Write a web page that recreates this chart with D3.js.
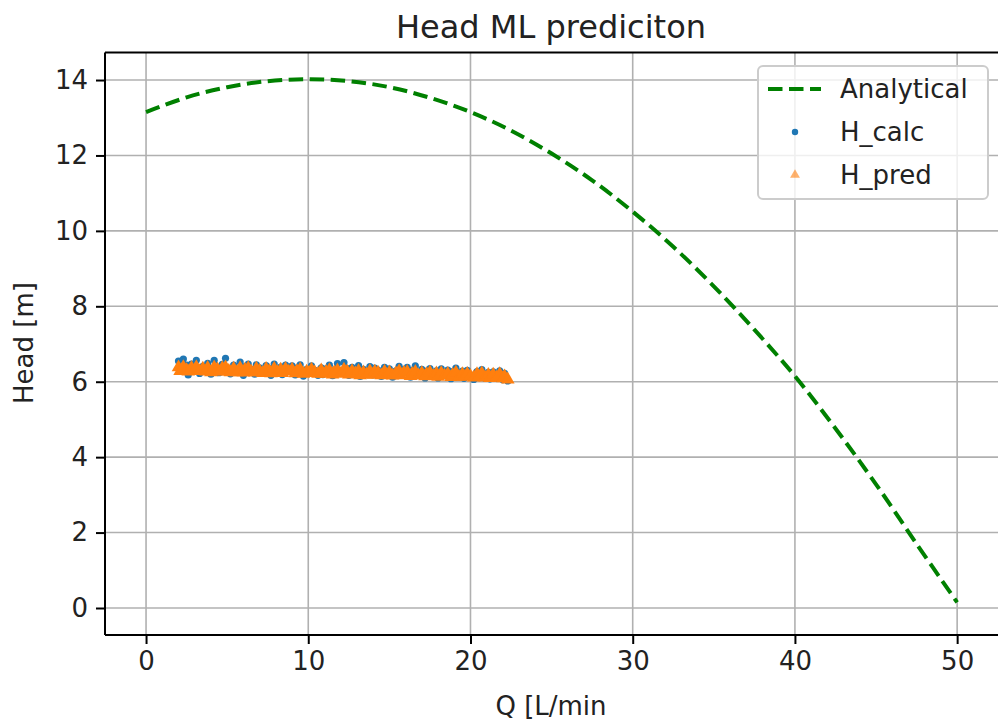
<!DOCTYPE html>
<html>
<head>
<meta charset="utf-8">
<script src="https://cdn.jsdelivr.net/npm/d3@7"></script>
<style>
  html, body { margin: 0; padding: 0; background: #ffffff; }
  svg { display: block; font-family: "DejaVu Sans", sans-serif; }
</style>
</head>
<body>
<svg id="chart" width="998" height="726"></svg>
<script>
// ---- data ----
const analyticalQ = [0, 2.5, 5, 7.5, 10, 12.5, 15, 17.5, 20, 22.5, 25, 27.5, 30, 32.5, 35, 37.5, 40, 42.5, 45, 47.5, 50];
const analyticalH = [13.15, 13.54, 13.81, 13.97, 14.02, 13.97, 13.81, 13.53, 13.15, 12.66, 12.05, 11.34, 10.51, 9.58, 8.53, 7.38, 6.15, 4.76, 3.28, 1.70, 0.15];

const sampleQ = [
  2.0, 2.1, 2.3, 2.5, 2.6, 2.8, 3.0, 3.1, 3.3, 3.5,
  3.7, 3.8, 4.0, 4.2, 4.4, 4.5, 4.7, 4.9, 5.1, 5.2,
  5.4, 5.6, 5.8, 6.0, 6.1, 6.3, 6.5, 6.7, 6.8, 7.0,
  7.2, 7.4, 7.6, 7.7, 7.9, 8.1, 8.3, 8.4, 8.6, 8.8,
  9.0, 9.2, 9.3, 9.5, 9.7, 9.9, 10.0, 10.2, 10.4, 10.6,
  10.8, 10.9, 11.1, 11.3, 11.5, 11.6, 11.8, 12.0, 12.2, 12.4,
  12.5, 12.7, 12.9, 13.1, 13.2, 13.4, 13.6, 13.8, 14.0, 14.1,
  14.3, 14.5, 14.7, 14.8, 15.0, 15.2, 15.4, 15.6, 15.7, 15.9,
  16.1, 16.3, 16.4, 16.6, 16.8, 17.0, 17.2, 17.3, 17.5, 17.7,
  17.9, 18.0, 18.2, 18.4, 18.6, 18.8, 18.9, 19.1, 19.3, 19.5,
  19.6, 19.8, 20.0, 20.2, 20.4, 20.5, 20.7, 20.9, 21.1, 21.2,
  21.4, 21.6, 21.8, 22.0, 22.1, 22.3
];
const calcH = [
  6.55, 6.31, 6.60, 6.44, 6.18, 6.47, 6.36, 6.57, 6.22, 6.41,
  6.33, 6.49, 6.20, 6.57, 6.39, 6.24, 6.46, 6.62, 6.35, 6.21,
  6.44, 6.30, 6.52, 6.17, 6.40, 6.47, 6.33, 6.20, 6.45, 6.37,
  6.22, 6.43, 6.35, 6.17, 6.47, 6.31, 6.39, 6.19, 6.44, 6.33,
  6.42, 6.18, 6.36, 6.45, 6.15, 6.33, 6.22, 6.42, 6.30, 6.17,
  6.37, 6.19, 6.34, 6.44, 6.16, 6.31, 6.48, 6.23, 6.51, 6.35,
  6.17, 6.38, 6.30, 6.43, 6.14, 6.33, 6.21, 6.40, 6.18, 6.36,
  6.31, 6.14, 6.38, 6.20, 6.34, 6.12, 6.29, 6.41, 6.17, 6.32,
  6.38, 6.12, 6.30, 6.42, 6.18, 6.33, 6.10, 6.28, 6.35, 6.15,
  6.29, 6.10, 6.34, 6.16, 6.31, 6.08, 6.27, 6.36, 6.12, 6.28,
  6.09, 6.30, 6.18, 6.06, 6.27, 6.14, 6.32, 6.09, 6.25, 6.07,
  6.26, 6.09, 6.29, 6.05, 6.22, 6.02
];
const predH = [
  6.38, 6.28, 6.39, 6.31, 6.27, 6.37, 6.30, 6.39, 6.28, 6.35,
  6.27, 6.37, 6.25, 6.38, 6.33, 6.26, 6.36, 6.38, 6.29, 6.25,
  6.35, 6.25, 6.36, 6.24, 6.32, 6.36, 6.26, 6.24, 6.35, 6.29,
  6.23, 6.34, 6.28, 6.22, 6.35, 6.25, 6.32, 6.23, 6.34, 6.27,
  6.32, 6.22, 6.28, 6.33, 6.21, 6.27, 6.23, 6.32, 6.25, 6.21,
  6.30, 6.21, 6.26, 6.31, 6.19, 6.25, 6.30, 6.21, 6.32, 6.27,
  6.19, 6.28, 6.22, 6.29, 6.17, 6.25, 6.19, 6.28, 6.18, 6.27,
  6.24, 6.17, 6.27, 6.18, 6.25, 6.16, 6.22, 6.28, 6.17, 6.24,
  6.26, 6.15, 6.21, 6.26, 6.16, 6.23, 6.14, 6.20, 6.25, 6.15,
  6.22, 6.13, 6.23, 6.16, 6.21, 6.12, 6.18, 6.24, 6.13, 6.20,
  6.13, 6.21, 6.15, 6.11, 6.20, 6.14, 6.22, 6.11, 6.18, 6.10,
  6.19, 6.11, 6.20, 6.09, 6.14, 6.06
];

const xTicks = [0, 10, 20, 30, 40, 50];
const yTicks = [0, 2, 4, 6, 8, 10, 12, 14];
const seriesNames = ["Analytical", "H_calc", "H_pred"];
const titleText = "Head ML prediciton";
const xLabel = "Q [L/min";
const yLabel = "Head [m]";

// ---- layout ----
const W = 998, H = 726;
const plot = { left: 105, top: 52.5, right: 999, bottom: 635 };
const svg = d3.select("#chart");

const x = d3.scaleLinear().domain([-2.53, 52.58]).range([plot.left, plot.right]);
const y = d3.scaleLinear().domain([-0.716, 14.73]).range([plot.bottom, plot.top]);

const colors = { analytical: "#008000", calc: "#1f77b4", pred: "#ff7f0e" };

// clip
svg.append("defs").append("clipPath").attr("id", "clip")
  .append("rect").attr("x", plot.left).attr("y", plot.top)
  .attr("width", plot.right - plot.left).attr("height", plot.bottom - plot.top);

// grid
const grid = svg.append("g").attr("clip-path", "url(#clip)");
grid.selectAll(".gx").data(xTicks).enter().append("line")
  .attr("x1", d => x(d)).attr("x2", d => x(d))
  .attr("y1", plot.top).attr("y2", plot.bottom)
  .attr("stroke", "#b0b0b0").attr("stroke-width", 1.6);
grid.selectAll(".gy").data(yTicks).enter().append("line")
  .attr("x1", plot.left).attr("x2", plot.right)
  .attr("y1", d => y(d)).attr("y2", d => y(d))
  .attr("stroke", "#b0b0b0").attr("stroke-width", 1.6);

// data
const layer = svg.append("g").attr("clip-path", "url(#clip)");
const line = d3.line().x(d => x(d[0])).y(d => y(d[1])).curve(d3.curveCatmullRom);
layer.append("path")
  .datum(analyticalQ.map((q, i) => [q, analyticalH[i]]))
  .attr("d", line)
  .attr("fill", "none").attr("stroke", colors.analytical)
  .attr("stroke-width", 4).attr("stroke-dasharray", "14.5,6.5");

const calcPts = sampleQ.map((q, i) => [q, calcH[i]]);
const predPts = sampleQ.map((q, i) => [q, predH[i]]);

layer.selectAll(".calc").data(calcPts).enter().append("circle")
  .attr("cx", d => x(d[0])).attr("cy", d => y(d[1])).attr("r", 3.6)
  .attr("fill", colors.calc);

const tri = d3.symbol().type(d3.symbolTriangle).size(80);
layer.selectAll(".pred").data(predPts).enter().append("path")
  .attr("d", tri)
  .attr("transform", d => `translate(${x(d[0])},${y(d[1])})`)
  .attr("fill", colors.pred);

// axes
const xAxis = d3.axisBottom(x).tickValues(xTicks).tickSize(9).tickPadding(8).tickFormat(d3.format("d"));
const yAxis = d3.axisLeft(y).tickValues(yTicks).tickSize(9).tickPadding(8).tickFormat(d3.format("d"));

const gx = svg.append("g").attr("transform", `translate(0,${plot.bottom})`).call(xAxis);
const gy = svg.append("g").attr("transform", `translate(${plot.left},0)`).call(yAxis);
[gx, gy].forEach(g => {
  g.select(".domain").remove();
  g.selectAll(".tick line").attr("stroke", "#000").attr("stroke-width", 2);
  g.selectAll(".tick text").attr("fill", "#222").style("font-size", "26px")
    .style("font-family", "DejaVu Sans, sans-serif");
});

// spines (left, top, bottom)
svg.append("line").attr("x1", plot.left).attr("x2", plot.left)
  .attr("y1", plot.top).attr("y2", plot.bottom).attr("stroke", "#000").attr("stroke-width", 2);
svg.append("line").attr("x1", plot.left).attr("x2", plot.right)
  .attr("y1", plot.top).attr("y2", plot.top).attr("stroke", "#000").attr("stroke-width", 2);
svg.append("line").attr("x1", plot.left).attr("x2", plot.right)
  .attr("y1", plot.bottom).attr("y2", plot.bottom).attr("stroke", "#000").attr("stroke-width", 2);

// labels
svg.append("text").attr("x", 551).attr("y", 38).attr("text-anchor", "middle")
  .style("font-size", "32px").attr("fill", "#222").text(titleText);
svg.append("text").attr("x", 551).attr("y", 715).attr("text-anchor", "middle")
  .style("font-size", "26px").attr("fill", "#222").text(xLabel);
svg.append("text").attr("transform", "translate(33,343) rotate(-90)").attr("text-anchor", "middle")
  .style("font-size", "26px").attr("fill", "#222").text(yLabel);

// legend
const lg = svg.append("g");
lg.append("rect").attr("x", 758).attr("y", 66).attr("width", 230).attr("height", 133)
  .attr("rx", 5).attr("fill", "rgba(255,255,255,0.8)").attr("stroke", "#cccccc").attr("stroke-width", 2);
const rows = [89, 132, 175];
lg.append("line").attr("x1", 768).attr("x2", 821).attr("y1", rows[0]).attr("y2", rows[0])
  .attr("stroke", colors.analytical).attr("stroke-width", 4).attr("stroke-dasharray", "14.5,6.5");
lg.append("circle").attr("cx", 795).attr("cy", rows[1]).attr("r", 3.2).attr("fill", colors.calc);
lg.append("path").attr("d", d3.symbol().type(d3.symbolTriangle).size(42)).attr("transform", `translate(795,${rows[2]})`)
  .attr("fill", colors.pred).attr("opacity", 0.6);
seriesNames.forEach((n, i) => {
  lg.append("text").attr("x", 840).attr("y", rows[i]).attr("dy", "0.35em")
    .style("font-size", "26px").attr("fill", "#222").text(n);
});
</script>
</body>
</html>
